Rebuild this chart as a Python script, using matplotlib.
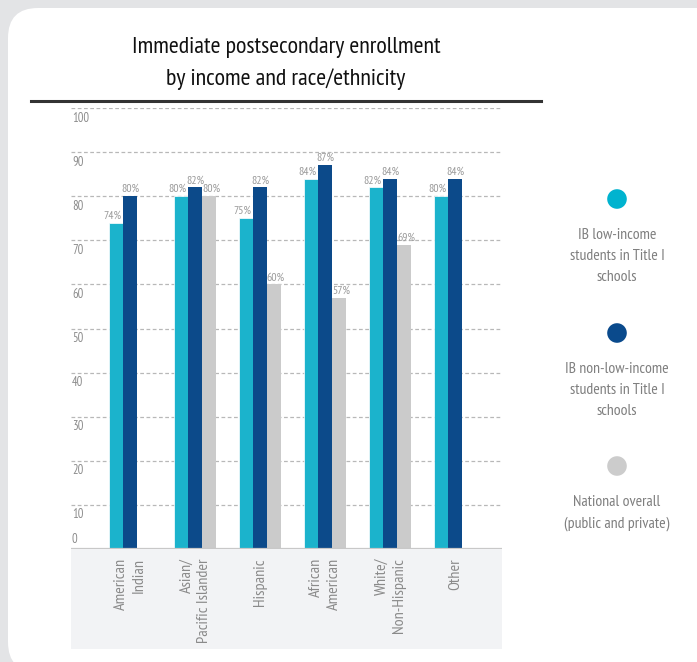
"""Immediate postsecondary enrollment by income and race/ethnicity (grouped bars)."""
import matplotlib
matplotlib.use("Agg")
import matplotlib.pyplot as plt
from matplotlib.patches import Circle, FancyBboxPatch, Rectangle
from matplotlib.lines import Line2D
import numpy as np

plt.rcParams["font.family"] = ["PT Sans Narrow", "Open Sans Condensed", "DejaVu Sans"]

CATEGORIES = ["American\nIndian", "Asian/\nPacific Islander", "Hispanic",
              "African\nAmerican", "White/\nNon-Hispanic", "Other"]
LOW_INCOME = [74, 80, 75, 84, 82, 80]
NON_LOW_INCOME = [80, 82, 82, 87, 84, 84]
NATIONAL = [None, 80, 60, 57, 69, None]

SERIES_NAMES = ["IB low-income\nstudents in Title I\nschools",
                "IB non-low-income\nstudents in Title I\nschools",
                "National overall\n(public and private)"]
Y_TICKS = list(range(0, 101, 10))

CYAN = "#1bb3cc"
NAVY = "#0c4a8a"
GREY = "#cbcbcb"
TEXT_GREY = "#8c8c8c"

W, H = 697, 662
fig = plt.figure(figsize=(W / 100, H / 100), dpi=100)
fig.patch.set_facecolor("#e3e4e6")


def fx(px):
    return px / W


def fy(py):
    return 1 - py / H


# white rounded card
card = FancyBboxPatch((8 / 100, -10 / 100), 720 / 100, (H - 8 + 10) / 100,
                      boxstyle="round,pad=0,rounding_size=0.3",
                      transform=fig.dpi_scale_trans, facecolor="white",
                      edgecolor="none", zorder=0)
fig.add_artist(card)

# title + rule
fig.text(fx(286), fy(47), "Immediate postsecondary enrollment", ha="center",
         va="center", fontsize=17.3, color="#111111")
fig.text(fx(286), fy(79), "by income and race/ethnicity", ha="center",
         va="center", fontsize=17.3, color="#111111")
fig.add_artist(Line2D([fx(31), fx(541)], [fy(101), fy(101)], color="#333333",
                      lw=2.2, transform=fig.transFigure))

# axes: value 0 at y=549, value 100 at y=108
ax = fig.add_axes([fx(71), fy(549), fx(502) - fx(71), (549 - 108) / H])
ax.patch.set_visible(False)
for s in ax.spines.values():
    s.set_visible(False)

x = np.arange(len(CATEGORIES))
bw = 0.215
ax.bar(x - bw, LOW_INCOME, bw, color=CYAN, edgecolor="white", linewidth=0.5, zorder=2)
ax.bar(x, NON_LOW_INCOME, bw, color=NAVY, linewidth=0, zorder=2)
nat_x = [xi + bw for xi, v in zip(x, NATIONAL) if v is not None]
nat_v = [v for v in NATIONAL if v is not None]
ax.bar(nat_x, nat_v, bw, color=GREY, linewidth=0, zorder=2)

ax.set_xlim(-0.908, 5.723)
ax.set_ylim(0, 100)
ax.set_yticks(Y_TICKS)
ax.yaxis.grid(True, linestyle=(0, (3, 2)), color="#b8b8b8", linewidth=0.9)
ax.set_axisbelow(True)
ax.tick_params(axis="y", length=0, labelleft=False)

# y labels sit under their gridline, except 0 which sits above the baseline
for v in Y_TICKS:
    if v == 0:
        ax.annotate(str(v), (0, v), xycoords=("axes fraction", "data"),
                    xytext=(1, 3), textcoords="offset pixels", ha="left",
                    va="bottom", fontsize=9, color=TEXT_GREY)
    else:
        ax.annotate(str(v), (0, v), xycoords=("axes fraction", "data"),
                    xytext=(1, -10), textcoords="offset pixels", ha="left",
                    va="center", fontsize=9, color=TEXT_GREY)

# value labels
for xs, vals, dx in [(x - bw, LOW_INCOME, -4), (x, NON_LOW_INCOME, 0),
                     (x + bw, NATIONAL, 2)]:
    for xi, v in zip(xs, vals):
        if v is None:
            continue
        ax.annotate(f"{v}%", (xi, v), xytext=(dx, 2), textcoords="offset pixels",
                    ha="center", va="bottom", fontsize=8.5, color="#999999")

# category band and baseline
ax.add_patch(Rectangle((0, 0), 1, -100 / 441, transform=ax.transAxes,
                       facecolor="#f2f3f5", edgecolor="none", clip_on=False,
                       zorder=0))
ax.axhline(0, color="#c8c8c8", lw=1.6, zorder=3)

ax.set_xticks(x)
ax.set_xticklabels(CATEGORIES, rotation=90, va="top", ha="center",
                   multialignment="right", fontsize=11.6, color="#8a8a8a",
                   linespacing=1.3)
ax.tick_params(axis="x", length=0, pad=6.5)

# legend on the right
for cy, color, name in zip([199, 333, 466], ["#00b3cf", "#0a4a8c", "#cccccc"],
                           SERIES_NAMES):
    fig.add_artist(Circle((617 / 100, (H - cy) / 100), 0.098,
                          transform=fig.dpi_scale_trans, facecolor=color,
                          edgecolor="none"))
    fig.text(fx(617), fy(cy + 29), name, ha="center", va="top", fontsize=11.3,
             color="#7f7f7f", linespacing=1.65)

fig.savefig("out.png", dpi=100, facecolor=fig.get_facecolor())
